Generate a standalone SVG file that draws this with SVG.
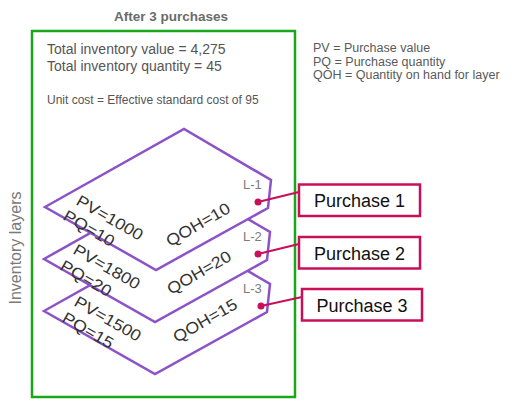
<svg xmlns="http://www.w3.org/2000/svg" width="518" height="413" viewBox="0 0 518 413">
<style>
text{font-family:"Liberation Sans",Arial,sans-serif}
.title{font-size:13.5px;font-weight:bold;fill:#6b6b6b}
.info{font-size:14px;fill:#555}
.small{font-size:12px;fill:#555}
.legend{font-size:12.5px;fill:#5a5a5a}
.side{font-size:16px;fill:#7a7a7a}
.layer{fill:#fff;stroke:#8c52c8;stroke-width:2.5;stroke-linejoin:miter}
.lt{font-size:16px;fill:#333}
.lid{font-size:13px;fill:#7a7a7a}
.pbox{fill:#fff;stroke:#c8105a;stroke-width:2.5}
.ptext{font-size:18px;fill:#111;text-anchor:middle}
.conn{stroke:#c8105a;stroke-width:2.2;fill:none}
</style>
<defs>
<marker id="dot" viewBox="-4 -4 8 8" markerWidth="8" markerHeight="8" markerUnits="userSpaceOnUse" refX="0" refY="0">
<circle r="3.5" fill="#c8105a"/>
</marker>
</defs>
<rect width="518" height="413" fill="#fff"/>
<text class="title" x="171" y="21" text-anchor="middle">After 3 purchases</text>
<rect id="frame" x="32" y="31" width="263" height="366" fill="none" stroke="#1aa61a" stroke-width="2.5"/>
<text class="info" x="47" y="54">Total inventory value = 4,275</text>
<text class="info" x="47" y="71">Total inventory quantity = 45</text>
<text class="small" x="47" y="104">Unit cost = Effective standard cost of 95</text>
<g id="legend">
<text class="legend" x="313" y="52">PV = Purchase value</text>
<text class="legend" x="313" y="65.5">PQ = Purchase quantity</text>
<text class="legend" x="313" y="79">QOH = Quantity on hand for layer</text>
</g>
<text class="side" transform="translate(21,248) rotate(-90)" text-anchor="middle">Inventory layers</text>
<g id="layer3">
<polygon class="layer" points="44,311 183,233 270,284 267,312 155,374"/>
<text class="lt" transform="translate(73,305) rotate(30) scale(1.12,1)">PV=1500</text>
<text class="lt" transform="translate(61,321) rotate(30) scale(1.12,1)">PQ=15</text>
<text class="lt" transform="translate(177,343) rotate(-30) scale(1.12,1)">QOH=15</text>
<text class="lid" x="243" y="293">L-3</text>
</g>
<g id="layer2">
<polygon class="layer" points="44,259 183,181 270,232 267,260 155,322"/>
<text class="lt" transform="translate(72,253) rotate(30) scale(1.12,1)">PV=1800</text>
<text class="lt" transform="translate(59,269) rotate(30) scale(1.12,1)">PQ=20</text>
<text class="lt" transform="translate(171,295) rotate(-30) scale(1.12,1)">QOH=20</text>
<text class="lid" x="243" y="241">L-2</text>
</g>
<g id="layer1">
<polygon class="layer" points="45,207 184,129 271,180 268,208 156,270"/>
<text class="lt" transform="translate(75,204) rotate(30) scale(1.12,1)">PV=1000</text>
<text class="lt" transform="translate(62,219) rotate(30) scale(1.12,1)">PQ=10</text>
<text class="lt" transform="translate(170,247) rotate(-30) scale(1.12,1)">QOH=10</text>
<text class="lid" x="243" y="189">L-1</text>
</g>
<g id="connectors">
<line class="conn" x1="258" y1="202" x2="299" y2="192" marker-start="url(#dot)"/>
<line class="conn" x1="258" y1="254" x2="299" y2="244" marker-start="url(#dot)"/>
<line class="conn" x1="261" y1="306" x2="302" y2="297" marker-start="url(#dot)"/>
</g>
<g id="purchase1">
<rect class="pbox" x="299" y="184.5" width="121" height="31.5"/>
<text class="ptext" x="359.5" y="207">Purchase 1</text>
</g>
<g id="purchase2">
<rect class="pbox" x="299" y="237" width="121" height="31.5"/>
<text class="ptext" x="359.5" y="259.5">Purchase 2</text>
</g>
<g id="purchase3">
<rect class="pbox" x="302" y="289" width="120" height="31.5"/>
<text class="ptext" x="362" y="311.5">Purchase 3</text>
</g>
</svg>
